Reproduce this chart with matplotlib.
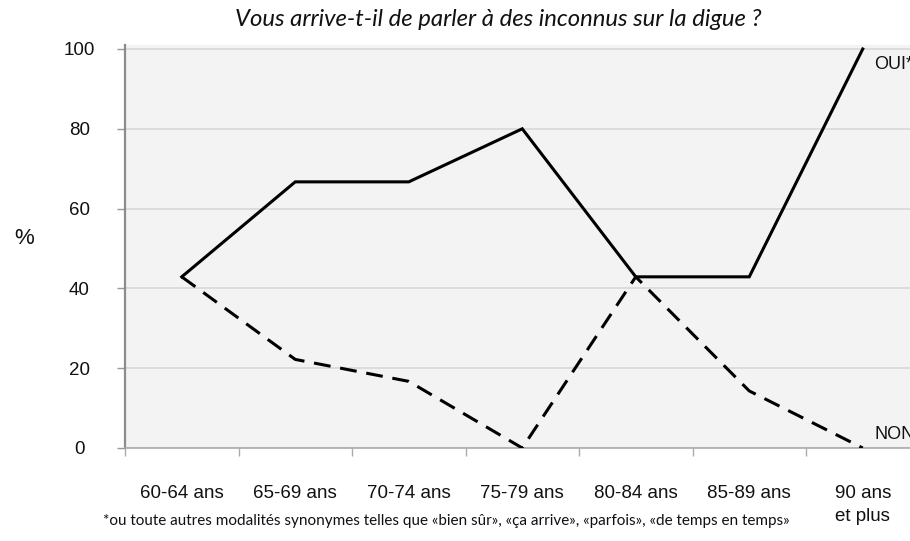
import matplotlib
matplotlib.use("Agg")
import matplotlib.pyplot as plt

# Age groups and answer shares (%)
categories = ["60-64 ans", "65-69 ans", "70-74 ans", "75-79 ans",
              "80-84 ans", "85-89 ans", "90 ans\net plus"]
oui = [42.9, 66.7, 66.7, 80.0, 42.9, 42.9, 100.0]
non = [42.9, 22.2, 16.7, 0.0, 42.9, 14.3, 0.0]
yticks = [0, 20, 40, 60, 80, 100]

title = "Vous arrive-t-il de parler à des inconnus sur la digue ?"
footnote = ("*ou toute autres modalités synonymes telles que «bien sûr», "
            "«ça arrive», «parfois», «de temps en temps»")

W, H = 910, 541
fig = plt.figure(figsize=(W / 100, H / 100), dpi=100)
fig.patch.set_facecolor("white")

ax = fig.add_axes([125 / W, (H - 448) / H, 794.5 / W, 403 / H])
ax.set_facecolor("#f3f3f3")

x = list(range(len(categories)))
ax.plot(x, oui, color="black", lw=2.2, solid_joinstyle="miter", zorder=3)
ax.plot(x, non, color="black", lw=2.2, linestyle=(0, (5.5, 3.2)),
        dash_capstyle="butt", zorder=3)

ax.set_xlim(-0.5, len(categories) - 0.5)
ax.set_ylim(0, 101)

# y axis
ax.set_yticks(yticks)
ax.set_yticklabels([str(v) for v in yticks], fontsize=13.5,
                   family="Liberation Sans", color="#111111")
for lab in ax.get_yticklabels():
    lab.set_horizontalalignment("center")
ax.tick_params(axis="y", direction="out", length=6, width=1,
               color="#999999", pad=27)
ax.grid(axis="y", color="#d8d8d8", lw=1.2, zorder=1)

# x axis: ticks on category boundaries, labels at centers
bounds = [i - 0.5 for i in range(len(categories) + 1)]
ax.set_xticks(bounds)
ax.set_xticklabels([])
ax.tick_params(axis="x", direction="out", length=6, width=1, color="#aaaaaa")
ax.set_xticks(x, minor=True)
ax.set_xticklabels(categories, minor=True, fontsize=13.5,
                   family="Liberation Sans", color="#111111",
                   linespacing=1.45, va="top")
ax.tick_params(axis="x", which="minor", length=0, pad=27)

for side in ("top", "right"):
    ax.spines[side].set_visible(False)
ax.spines["left"].set_color("#8c8c8c")
ax.spines["left"].set_linewidth(1.6)
ax.spines["bottom"].set_color("#aaaaaa")
ax.spines["bottom"].set_linewidth(1.2)

# series labels at the right end
ax.text(6.1, 96, "OUI*", fontsize=13, family="Liberation Sans",
        va="center", ha="left", color="#111111")
ax.text(6.1, 3.3, "NON", fontsize=13, family="Liberation Sans",
        va="center", ha="left", color="#111111")

fig.text(24 / W, 1 - 238 / H, "%", fontsize=16, family="Liberation Sans",
         ha="center", va="center", color="#111111")

fig.text(498 / W, 1 - 19 / H, title, fontsize=17.2, family="Lato",
         style="italic", ha="center", va="center", color="#111111")
fig.text(446 / W, 1 - 521 / H, footnote, fontsize=11.0, family="Lato",
         ha="center", va="center", color="#111111")

fig.savefig("out.png", dpi=100)
